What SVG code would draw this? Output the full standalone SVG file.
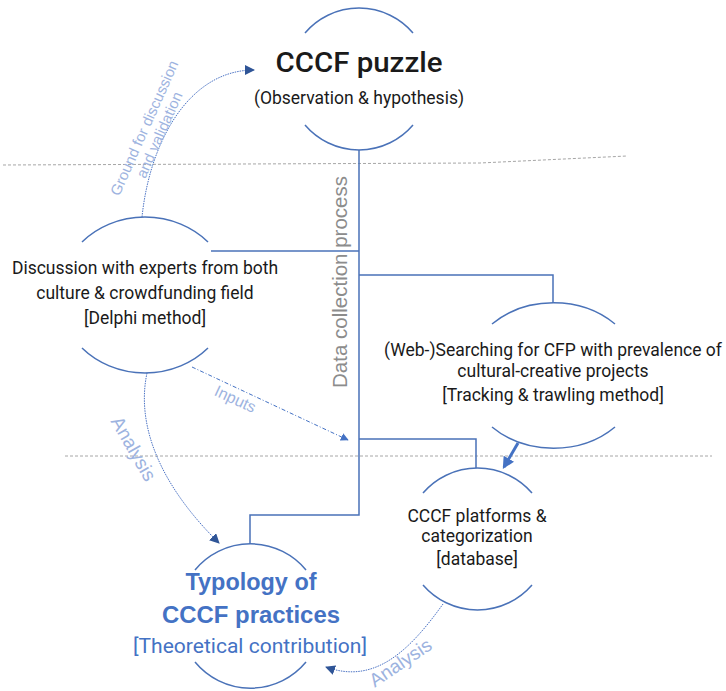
<svg xmlns="http://www.w3.org/2000/svg" width="726" height="691" viewBox="0 0 726 691">
<defs>
<style>
.arc{fill:none;stroke:#4a72b8;stroke-width:1.5}
.line{fill:none;stroke:#4a72b8;stroke-width:1.5}
.sep{fill:none;stroke:#a6a6a6;stroke-width:1;stroke-dasharray:3 2}
.dot{fill:none;stroke:#4a72c4;stroke-width:1;stroke-dasharray:1.5 1}
.t{font-family:Roboto,"Liberation Sans",sans-serif;fill:#1a1a1a;text-anchor:middle;font-size:17.5px}
.lbl{font-family:"Liberation Sans",Arial,sans-serif;fill:#9db3e0;text-anchor:middle}
.ty{font-family:"Liberation Sans",Arial,sans-serif;fill:#4472c4;text-anchor:middle}
</style>
<marker id="ah" viewBox="0 0 10 10" refX="9" refY="5" markerWidth="10" markerHeight="10" markerUnits="userSpaceOnUse" orient="auto">
<path d="M0,0 L10,5 L0,10 Z" fill="#2f5597"/>
</marker>
<marker id="ahs" viewBox="0 0 10 10" refX="9" refY="5" markerWidth="8" markerHeight="8" markerUnits="userSpaceOnUse" orient="auto">
<path d="M0,0 L10,5 L0,10 Z" fill="#4472c4"/>
</marker>
<marker id="ahb" viewBox="0 0 10 10" refX="8" refY="5" markerWidth="4" markerHeight="4" orient="auto">
<path d="M0,0 L10,5 L0,10 Z" fill="#4472c4"/>
</marker>
</defs>
<rect width="726" height="691" fill="#ffffff"/>

<g id="separators">
<polyline class="sep" points="3,165 480,163 627,156"/>
<line class="sep" x1="65" y1="456" x2="712" y2="456"/>
</g>

<g id="connectors">
<polyline class="line" points="359,150 359,515 250,515 250,544"/>
<line class="line" x1="211" y1="251" x2="359" y2="251"/>
<polyline class="line" points="359,275 553,275 553,303"/>
<polyline class="line" points="359,439 476,439 476,468"/>
<line x1="518" y1="443" x2="504" y2="467" stroke="#4472c4" stroke-width="3" marker-end="url(#ahb)"/>
<path class="dot" d="M142,217 C150,140 190,70 254,70" marker-end="url(#ah)"/>
<path class="dot" d="M147,373 C135,430 165,490 219,543" marker-end="url(#ah)"/>
<path class="dot" d="M443,604 C410,650 375,685 326,667" marker-end="url(#ah)"/>
<line x1="192" y1="367" x2="348" y2="440" stroke="#4472c4" stroke-width="1" stroke-dasharray="4 2 1 2" marker-end="url(#ahs)"/>
<text class="lbl" font-size="15" transform="translate(149,130) rotate(-66)">Ground for discussion</text>
<text class="lbl" font-size="15" transform="translate(164,137) rotate(-66)">and validation</text>
<text class="lbl" font-size="16" transform="translate(233,404) rotate(25)">Inputs</text>
<text class="lbl" font-size="19" transform="translate(128,452) rotate(60)">Analysis</text>
<text class="lbl" font-size="19" transform="translate(404,668) rotate(-34)">Analysis</text>
<text font-family="Liberation Sans,Arial,sans-serif" font-size="20.5" fill="#8c8c8c" text-anchor="middle" transform="translate(347,282) rotate(-90)">Data collection process</text>
</g>

<g id="node-puzzle">
<path class="arc" d="M305,33 A71,71 0 0 1 413,33"/>
<path class="arc" d="M305,125 A71,71 0 0 0 413,125"/>
<text class="t" x="359" y="72" style="font-size:27px" font-weight="500" textLength="167" lengthAdjust="spacingAndGlyphs">CCCF puzzle</text>
<text class="t" x="359" y="104">(Observation &amp; hypothesis)</text>
</g>

<g id="node-discussion">
<path class="arc" d="M82,242 A86,78 0 0 1 208,242"/>
<path class="arc" d="M82,348 A86,78 0 0 0 208,348"/>
<text class="t" x="145" y="274">Discussion with experts from both</text>
<text class="t" x="145" y="299">culture &amp; crowdfunding field</text>
<text class="t" x="145" y="324">[Delphi method]</text>
</g>

<g id="node-web">
<path class="arc" d="M492,324 A87,72.5 0 0 1 615,324"/>
<path class="arc" d="M492,427 A87,72.5 0 0 0 615,427"/>
<text class="t" x="553" y="356">(Web-)Searching for CFP with prevalence of</text>
<text class="t" x="553" y="377">cultural-creative projects</text>
<text class="t" x="553" y="401">[Tracking &amp; trawling method]</text>
</g>

<g id="node-platforms">
<path class="arc" d="M423,493 A72,72 0 0 1 532,493"/>
<path class="arc" d="M423,585 A72,72 0 0 0 532,585"/>
<text class="t" x="477" y="522">CCCF platforms &amp;</text>
<text class="t" x="477" y="542">categorization</text>
<text class="t" x="477" y="565">[database]</text>
</g>

<g id="node-typology">
<path class="arc" d="M195,570 A72,72 0 0 1 306,570"/>
<path class="arc" d="M195,662 A72,72 0 0 0 306,662"/>
<text class="ty" x="251" y="590" font-size="23" font-weight="bold" textLength="131" lengthAdjust="spacingAndGlyphs">Typology of</text>
<text class="ty" x="251" y="623" font-size="23" font-weight="bold" textLength="178" lengthAdjust="spacingAndGlyphs">CCCF practices</text>
<text x="250" y="653" font-family="Roboto,Liberation Sans,sans-serif" font-size="19.5" fill="#4472c4" text-anchor="middle" textLength="234" lengthAdjust="spacingAndGlyphs">[Theoretical contribution]</text>
</g>
</svg>
